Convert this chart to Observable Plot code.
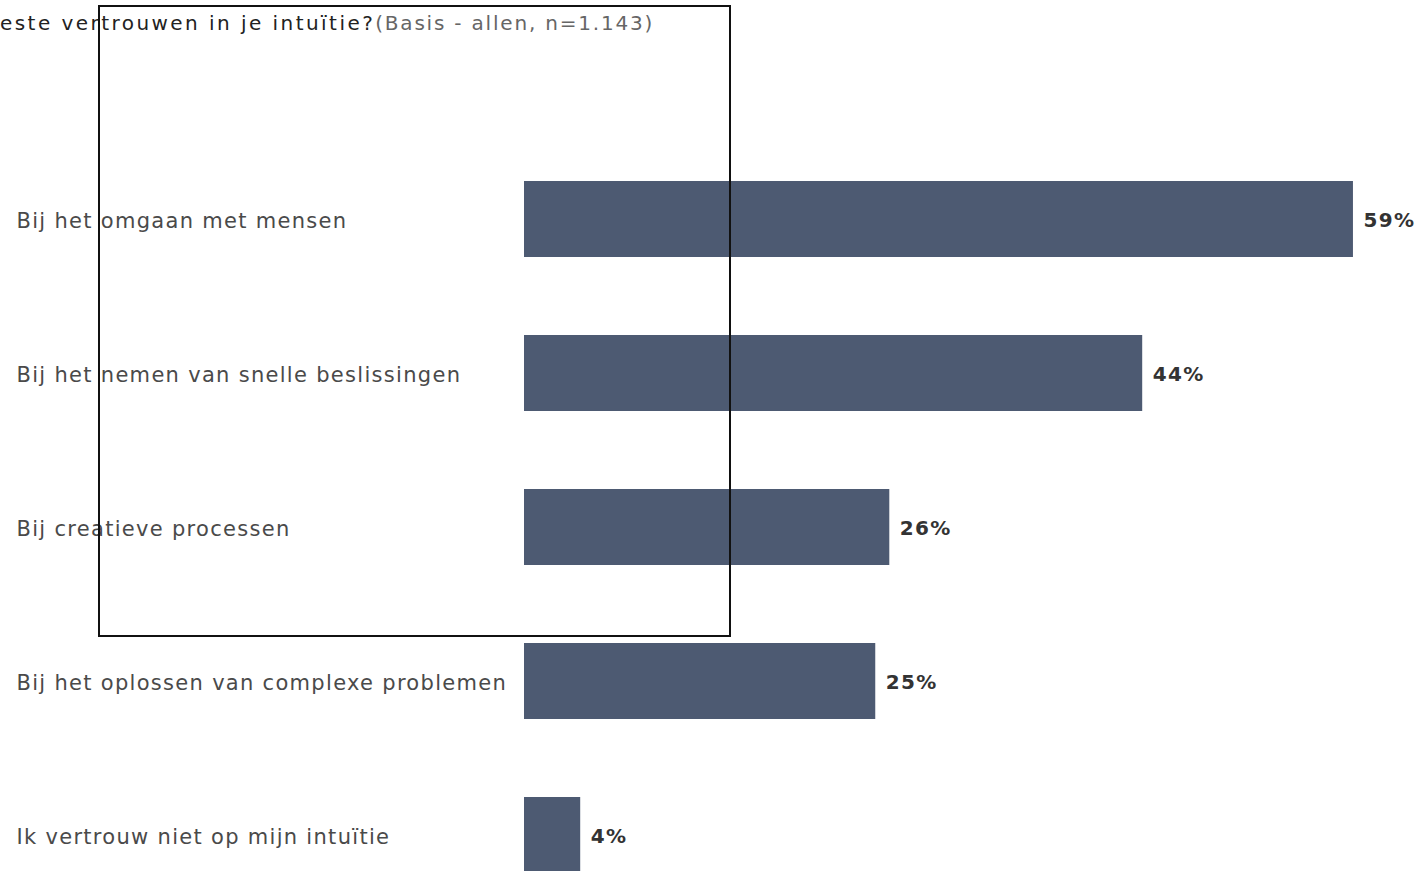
<!DOCTYPE html>
<html>
<head>
<meta charset="utf-8">
<script src="https://cdn.jsdelivr.net/npm/d3@7"></script>
<script src="https://cdn.jsdelivr.net/npm/@observablehq/plot@0.6"></script>
<style>
  html, body { margin: 0; padding: 0; background: #fff; overflow: hidden; }
  #wrap { position: relative; width: 1419px; height: 871px; }
  #title {
    position: absolute; top: 11px; left: 0; white-space: nowrap;
    font-family: "DejaVu Sans", sans-serif; font-size: 20px;
  }
  #title .q { color: #222; letter-spacing: 2.45px; }
  #title .b { color: #666; letter-spacing: 1.8px; }
  #box {
    position: absolute; left: 98px; top: 5px; width: 629px; height: 628px;
    border: 2px solid #111; pointer-events: none;
  }
</style>
</head>
<body>
<div id="wrap">
  <div id="chart"></div>
  <div id="title"><span class="q">este vertrouwen in je intuïtie?</span><span class="b">(Basis - allen, n=1.143)</span></div>
  <div id="box"></div>
</div>
<script>
// Answer categories and share of respondents (%)
const categories = [
  "Bij het omgaan met mensen",
  "Bij het nemen van snelle beslissingen",
  "Bij creatieve processen",
  "Bij het oplossen van complexe problemen",
  "Ik vertrouw niet op mijn intuïtie"
];
const values = [59, 44, 26, 25, 4];

const rows = categories.map((c, i) => ({category: c, value: values[i]}));

const chart = Plot.plot({
  width: 1419,
  height: 871,
  margin: 0,
  style: {background: "#fff", fontFamily: "DejaVu Sans, sans-serif"},
  x: {domain: [0, 100], range: [524, 524 + 1405], axis: null},
  y: {domain: categories, range: [142, 912], paddingInner: 0.506, paddingOuter: 0.253, axis: null},
  marks: [
    Plot.barX(rows, {y: "category", x1: 0, x2: "value", fill: "#4d5a72"}),
    Plot.text(rows, {
      y: "category", text: "category", frameAnchor: "left", dx: 16, dy: 2,
      textAnchor: "start", fontSize: 21, fill: "#4a4a4a"
    }),
    Plot.text(rows, {
      y: "category", x: "value", text: d => d.value + "%", dx: 10, dy: 1,
      textAnchor: "start", fontSize: 20, fontWeight: "bold", fill: "#333"
    })
  ]
});
// wider tracking on the text, as in the source typography
d3.select(chart).selectAll("text").style("letter-spacing", "1.3px");
document.getElementById("chart").appendChild(chart);
</script>
</body>
</html>
